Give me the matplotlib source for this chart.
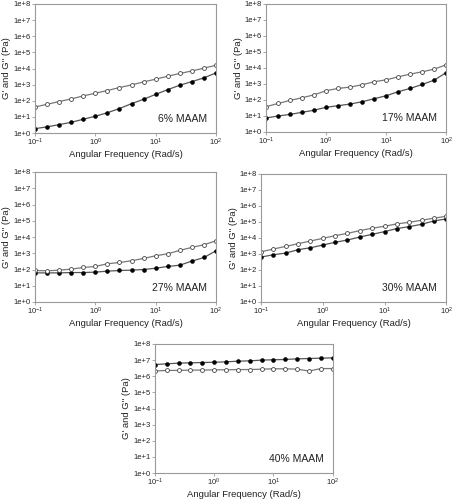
import math
import matplotlib
matplotlib.use('Agg')
import matplotlib.pyplot as plt
from matplotlib.ticker import LogLocator, FuncFormatter, NullLocator

plt.rcParams['font.family'] = ['Liberation Sans', 'DejaVu Sans']

freq = [0.1, 0.158, 0.251, 0.398, 0.631, 1.0, 1.58, 2.51, 3.98, 6.31,
        10.0, 15.8, 25.1, 39.8, 63.1, 100.0]

labels = ['6% MAAM', '17% MAAM', '27% MAAM', '30% MAAM', '40% MAAM']

open_vals = [
    [41, 60, 89, 130, 200, 293, 430, 660, 960, 1480, 2180, 3340, 4900, 7100, 10500, 16000],
    [38, 61, 94, 138, 212, 380, 530, 640, 900, 1380, 1830, 2800, 4150, 5800, 8500, 16000],
    [87, 83, 91, 105, 133, 154, 225, 270, 345, 480, 700, 930, 1500, 2300, 3350, 5900],
    [1380, 2040, 3000, 4400, 6500, 9500, 14000, 19500, 29000, 41000, 54000, 76000, 96000, 129000, 173000, 229000],
    [2.1e6, 2.3e6, 2.3e6, 2.4e6, 2.4e6, 2.5e6, 2.5e6, 2.6e6, 2.6e6, 2.75e6, 2.9e6, 2.9e6, 2.75e6, 2.1e6, 3.0e6, 3.0e6],
]
filled_vals = [
    [1.86, 2.4, 3.3, 4.6, 7.1, 11, 18, 33, 66, 124, 250, 490, 920, 1550, 2630, 5400],
    [7.5, 10, 12.6, 17, 23, 35, 44, 56, 78, 120, 185, 330, 530, 940, 1750, 5200],
    [62, 62, 62, 65, 65, 69, 79, 87, 91, 100, 120, 154, 185, 330, 550, 1430],
    [640, 900, 1140, 1860, 2460, 3630, 5400, 7500, 11500, 17000, 25000, 39000, 51000, 72000, 117000, 156000],
    [5.3e6, 5.9e6, 6.5e6, 6.8e6, 7.1e6, 7.4e6, 7.8e6, 8.6e6, 9.0e6, 1.0e7, 1.05e7, 1.1e7, 1.2e7, 1.26e7, 1.32e7, 1.38e7],
]

positions = [
    [0.077, 0.734, 0.399, 0.258],
    [0.586, 0.736, 0.397, 0.256],
    [0.077, 0.396, 0.399, 0.260],
    [0.575, 0.396, 0.408, 0.256],
    [0.341, 0.054, 0.392, 0.258],
]

fig = plt.figure(figsize=(4.54, 5.0), dpi=100)

for pos, lab, ov, fv in zip(positions, labels, open_vals, filled_vals):
    ax = fig.add_axes(pos)
    ax.plot(freq, fv, color='#555555', lw=0.9, marker='o', ms=2.8,
            mfc='black', mec='black', mew=0.4)
    ax.plot(freq, ov, color='#777777', lw=0.9, marker='o', ms=2.8,
            mfc='white', mec='#444444', mew=0.6)
    ax.set_xscale('log')
    ax.set_yscale('log')
    ax.set_xlim(0.1, 100)
    ax.set_ylim(1, 1e8)
    ax.yaxis.set_major_locator(LogLocator(base=10, numticks=12))
    ax.yaxis.set_minor_locator(NullLocator())
    ax.xaxis.set_minor_locator(NullLocator())
    ax.yaxis.set_major_formatter(FuncFormatter(lambda v, p: '1e+%d' % round(math.log10(v))))
    for s in ax.spines.values():
        s.set_color('#999999')
        s.set_linewidth(0.8)
    ax.tick_params(direction='out', length=2, width=0.6, color='#999999',
                   labelsize=5.5, pad=1, labelcolor='#222222')
    ax.set_xlabel('Angular Frequency (Rad/s)', fontsize=6.8, labelpad=1, color='#222222')
    ax.set_ylabel("G' and G\" (Pa)", fontsize=6.8, labelpad=1.5, color='#222222')
    ax.text(0.95, 0.07, lab, transform=ax.transAxes, ha='right', va='bottom',
            fontsize=7.5, color='#222222')

fig.savefig('out.png', dpi=100)
